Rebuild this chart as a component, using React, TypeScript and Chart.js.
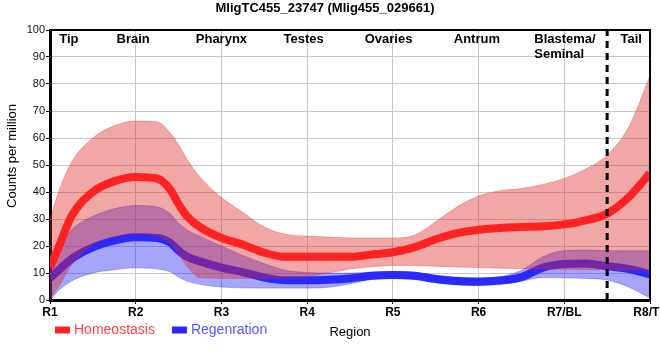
import React, { useEffect, useRef } from "react";
import { Chart, registerables } from "chart.js";

Chart.register(...registerables);

const FONT = "'Liberation Sans', Arial, sans-serif";

const chartTitle = "MligTC455_23747 (Mlig455_029661)";
const yTitle = "     Counts per million";
const xTitle = "Region";
const regionTicks = ["R1", "R2", "R3", "R4", "R5", "R6", "R7/BL", "R8/TL"];
const anatomyNames = [["Tip"], ["Brain"], ["Pharynx"], ["Testes"], ["Ovaries"], ["Antrum"], ["Blastema/", "Seminal"], ["Tail"]];
const anatomyX = [1.22, 1.97, 3.0, 3.96, 4.95, 5.98, 6.65, 7.78];
const anatomyAlign = ["center", "center", "center", "center", "center", "center", "left", "center"];
const boundaryX = 7.5;

const xs = [1, 1.1, 1.25, 1.5, 1.75, 2, 2.25, 2.4, 2.5, 2.6, 2.75, 3, 3.25, 3.5, 3.75, 4, 4.25, 4.5, 4.75, 5, 5.25, 5.5, 5.75, 6, 6.25, 6.5, 6.75, 7, 7.25, 7.5, 7.75, 8];

const homMean = [12, 19.5, 31, 40, 44, 45.6, 45, 41, 35.5, 31, 27, 23, 20.5, 17.5, 16, 16, 16, 16, 16.8, 17.7, 19.5, 22.5, 24.8, 26, 26.7, 27, 27.3, 28, 29.5, 32, 38, 47];
const homUpper = [30, 40, 51, 60, 64.5, 66.3, 66, 62, 57.5, 52, 45.5, 38, 32.5, 27, 24.3, 23.7, 23.3, 23, 23, 23, 24, 29, 34.5, 38.5, 40.5, 41.3, 42.8, 45, 48.5, 53.7, 64, 83];
const homLower = [0.5, 5, 13, 20.5, 23.5, 24.5, 23.5, 21, 17, 12.5, 8.3, 8, 8, 8, 8.3, 8.8, 10, 11.5, 12.3, 12.8, 12.8, 12.5, 12.2, 12, 11.8, 11.6, 11.5, 11.4, 11.3, 11.2, 11.1, 11];

const regMean = [8, 11, 15.2, 19.5, 22, 23.2, 23, 21.3, 18.3, 16, 14.3, 12, 10.3, 8.3, 7.3, 7.3, 7.5, 8, 9, 9.3, 9, 7.8, 7, 6.8, 7.2, 8.5, 12, 13.3, 13.5, 12.5, 11.5, 9.5];
const regUpper = [15, 19.5, 26, 31, 33.8, 35, 34.5, 32, 28.5, 26, 23.5, 20, 16.5, 13.5, 11, 10.2, 10, 10, 10.3, 10.5, 10.3, 9.2, 8.4, 8.2, 8.6, 11, 16, 18.3, 18.5, 18.3, 18.2, 18.2];
const regLower = [0, 3.5, 7, 10, 11.2, 11.9, 11.5, 10.5, 8.5, 7, 5.8, 4.8, 4.5, 4.4, 4.4, 4.4, 4.7, 6, 7.6, 8, 7.7, 6.4, 5.6, 5.4, 5.8, 7, 8.3, 8.2, 8, 7.4, 4.8, 0.7];

const seriesNames = ["Homeostasis", "Regenration"];

const RED_LINE = "#ff2222";
const RED_BAND = "rgba(222,35,35,0.4)";
const RED_EDGE = "rgba(222,35,35,0.3)";
const RED_TEXT = "#ff4444";
const BLUE_LINE = "#2a2aff";
const BLUE_BAND = "rgba(30,30,245,0.4)";
const BLUE_EDGE = "rgba(30,30,245,0.3)";
const BLUE_TEXT = "#5555ff";

const pts = (vals: number[]) => xs.map((x, i) => ({ x, y: vals[i] }));

const overlayPlugin = {
  id: "overlay",
  afterDraw(chart: any) {
    const { ctx, chartArea: a, scales } = chart;
    const xScale = scales.x;
    ctx.save();
    ctx.strokeStyle = "#000";
    ctx.lineWidth = 2;
    ctx.beginPath();
    ctx.moveTo(a.left, a.top);
    ctx.lineTo(a.right, a.top);
    ctx.lineTo(a.right, a.bottom);
    ctx.stroke();

    ctx.font = `bold 13px ${FONT}`;
    ctx.fillStyle = "#000";
    ctx.textBaseline = "middle";
    anatomyNames.forEach((lines, i) => {
      const px = xScale.getPixelForValue(anatomyX[i]);
      ctx.textAlign = anatomyAlign[i];
      lines.forEach((t, j) => ctx.fillText(t, px, a.top + 9 + j * 15));
    });

    const items = [
      { label: seriesNames[0], box: RED_LINE, text: RED_TEXT },
      { label: seriesNames[1], box: BLUE_LINE, text: BLUE_TEXT },
    ];
    ctx.font = `14px ${FONT}`;
    ctx.textAlign = "left";
    let lx = 55;
    const ly = 330;
    items.forEach((it) => {
      ctx.fillStyle = it.box;
      ctx.fillRect(lx, ly - 3.5, 15, 7);
      ctx.fillStyle = it.text;
      ctx.fillText(it.label, lx + 19, ly);
      lx += 19 + ctx.measureText(it.label).width + 17;
    });
    ctx.restore();
  },
};

export default function App() {
  const ref = useRef<HTMLCanvasElement>(null);
  useEffect(() => {
    if (!ref.current) return;
    const chart = new Chart(ref.current, {
      type: "line",
      data: {
        datasets: [
          { label: seriesNames[0], data: pts(homMean), borderColor: RED_LINE, borderWidth: 8, pointRadius: 0, fill: false, cubicInterpolationMode: "monotone", order: 2 },
          { label: "hom upper", data: pts(homUpper), borderColor: RED_EDGE, borderWidth: 1, backgroundColor: RED_BAND, pointRadius: 0, fill: 2, cubicInterpolationMode: "monotone", order: 3 },
          { label: "hom lower", data: pts(homLower), borderColor: RED_EDGE, borderWidth: 1, pointRadius: 0, fill: false, cubicInterpolationMode: "monotone", order: 3 },
          { label: seriesNames[1], data: pts(regMean), borderColor: BLUE_LINE, borderWidth: 8, pointRadius: 0, fill: false, cubicInterpolationMode: "monotone", order: 4 },
          { label: "reg upper", data: pts(regUpper), borderColor: BLUE_EDGE, borderWidth: 1, backgroundColor: BLUE_BAND, pointRadius: 0, fill: 5, cubicInterpolationMode: "monotone", order: 5 },
          { label: "reg lower", data: pts(regLower), borderColor: BLUE_EDGE, borderWidth: 1, pointRadius: 0, fill: false, cubicInterpolationMode: "monotone", order: 5 },
          { label: "boundary", data: [{ x: boundaryX, y: 0 }, { x: boundaryX, y: 100 }], borderColor: "#000", borderWidth: 3, borderDash: [7, 5], pointRadius: 0, fill: false, order: 1 },
        ] as any,
      },
      options: {
        animation: false,
        responsive: false,
        layout: { padding: { left: 0, right: 10, top: 0, bottom: 0 } },
        plugins: {
          legend: { display: false },
          tooltip: { enabled: false },
          title: {
            display: true,
            text: chartTitle,
            color: "#000",
            font: { family: FONT, size: 13, weight: "bold" },
            padding: { top: 1, bottom: 13.4 },
          },
        },
        scales: {
          x: {
            type: "linear",
            min: 1,
            max: 8,
            ticks: {
              stepSize: 1,
              autoSkip: false,
              maxRotation: 0,
              padding: 1,
              color: "#000",
              font: { family: FONT, size: 12, weight: "bold" },
              callback: (v: any) => regionTicks[Math.round(v) - 1] ?? "",
            },
            grid: { color: "#c8c8c8", tickColor: "#000", tickLength: 4 },
            border: { color: "#000", width: 3 },
            title: { display: true, text: xTitle, color: "#000", font: { family: FONT, size: 13 }, padding: { top: 0, bottom: 20 } },
            afterFit: (s: any) => {
              s.height = 60;
              s.paddingLeft = 0;
              s.paddingRight = 0;
            },
          },
          y: {
            min: 0,
            max: 100,
            ticks: { stepSize: 10, padding: 1, color: "#111", font: { family: FONT, size: 11 } },
            grid: { color: "#c8c8c8", tickColor: "#000", tickLength: 4 },
            border: { color: "#000", width: 3 },
            title: { display: true, text: yTitle, color: "#000", font: { family: FONT, size: 13 }, padding: { top: 5, bottom: 0 } },
            afterFit: (s: any) => {
              s.width = 50;
            },
          },
        },
      } as any,
      plugins: [overlayPlugin],
    });
    return () => chart.destroy();
  }, []);
  return (
    <div style={{ position: "fixed", left: 0, top: 0, width: 660, height: 360, background: "#fff" }}>
      <canvas ref={ref} width={660} height={360} style={{ display: "block" }} />
    </div>
  );
}
